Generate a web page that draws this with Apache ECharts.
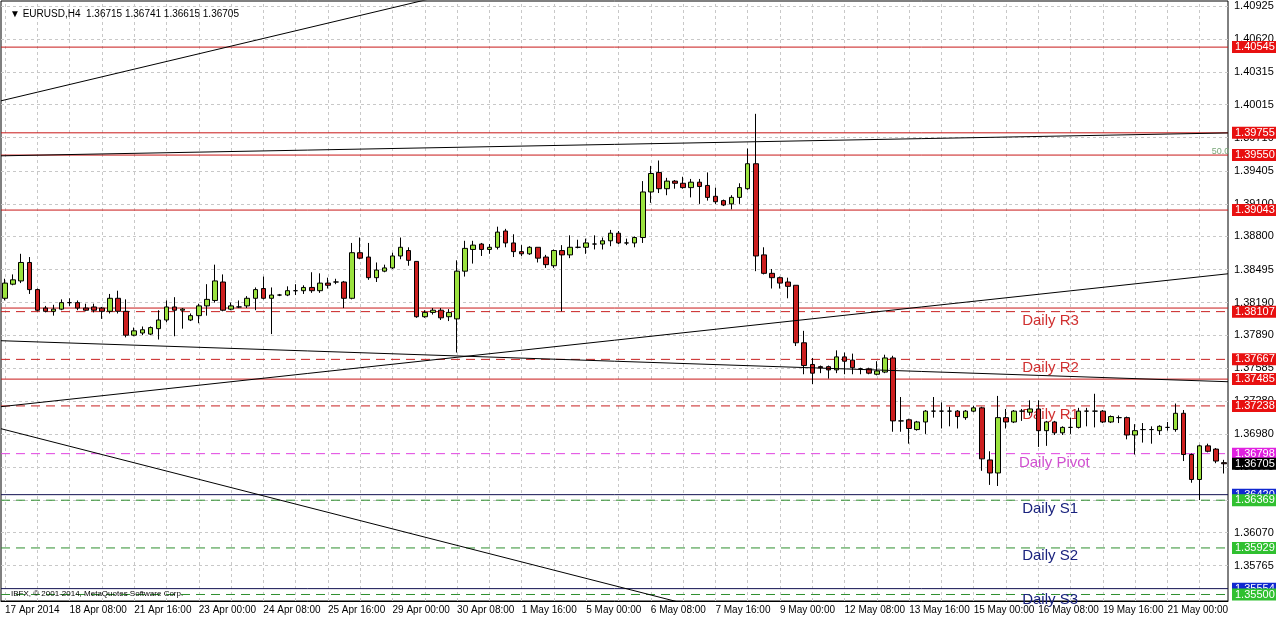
<!DOCTYPE html>
<html><head><meta charset="utf-8">
<script src="https://cdn.jsdelivr.net/npm/echarts@6/dist/echarts.min.js"></script>
<style>html,body{margin:0;padding:0;background:#fff}#c{width:1276px;height:619px}</style>
</head><body><div id="c"></div>
<script>
// Time axis tick labels (every 8th H4 bar)
const timeLabels = ['17 Apr 2014','18 Apr 08:00','21 Apr 16:00','23 Apr 00:00','24 Apr 08:00','25 Apr 16:00','29 Apr 00:00','30 Apr 08:00','1 May 16:00','5 May 00:00','6 May 08:00','7 May 16:00','9 May 00:00','12 May 08:00','13 May 16:00','15 May 00:00','16 May 08:00','19 May 16:00','21 May 00:00'];
// OHLC as [open, close, low, high]
const ohlc = [
[1.3823,1.3837,1.3821,1.3841],[1.3836,1.3840,1.3835,1.3845],[1.3839,1.3856,1.3837,1.3864],[1.3856,1.3831,1.3827,1.3861],
[1.3831,1.3812,1.3811,1.3832],[1.3814,1.3811,1.3810,1.3816],[1.3811,1.3813,1.3807,1.3817],[1.3813,1.3819,1.3812,1.3822],
[1.3819,1.3819,1.3816,1.3823],[1.3819,1.3814,1.3812,1.3821],[1.3814,1.3812,1.3811,1.3818],[1.3815,1.3812,1.3810,1.3818],
[1.3814,1.3811,1.3804,1.3815],[1.3811,1.3823,1.3809,1.3827],[1.3823,1.3811,1.3809,1.3830],[1.3811,1.3789,1.3787,1.3822],
[1.3789,1.3793,1.3788,1.3796],[1.3791,1.3794,1.3789,1.3797],[1.3790,1.3796,1.3789,1.3797],[1.3795,1.3803,1.3785,1.3812],
[1.3803,1.3815,1.3801,1.3821],[1.3815,1.3812,1.3788,1.3824],[1.3812,1.3813,1.3795,1.3814],[1.3803,1.3807,1.3802,1.3809],
[1.3807,1.3816,1.3800,1.3818],[1.3816,1.3822,1.3807,1.3836],[1.3821,1.3839,1.3819,1.3854],[1.3838,1.3812,1.3811,1.3845],
[1.3813,1.3816,1.3812,1.3819],[1.3815,1.3815,1.3814,1.3821],[1.3816,1.3823,1.3814,1.3825],[1.3823,1.3831,1.3812,1.3833],
[1.3832,1.3823,1.3822,1.3843],[1.3823,1.3826,1.3790,1.3833],[1.3826,1.3826,1.3825,1.3827],[1.3826,1.3830,1.3825,1.3834],
[1.3830,1.3830,1.3826,1.3836],[1.3830,1.3833,1.3827,1.3835],[1.3833,1.3830,1.3828,1.3847],[1.3830,1.3837,1.3828,1.3846],
[1.3837,1.3835,1.3832,1.3842],[1.3838,1.3838,1.3836,1.3841],[1.3838,1.3823,1.3814,1.3839],[1.3823,1.3865,1.3822,1.3874],
[1.3865,1.3860,1.3859,1.3879],[1.3861,1.3842,1.3840,1.3874],[1.3842,1.3849,1.3838,1.3856],[1.3848,1.3851,1.3847,1.3854],
[1.3851,1.3862,1.3850,1.3865],[1.3862,1.3870,1.3859,1.3879],[1.3867,1.3858,1.3853,1.3870],[1.3857,1.3806,1.3805,1.3857],
[1.3806,1.3810,1.3805,1.3812],[1.3810,1.3812,1.3808,1.3814],[1.3812,1.3805,1.3803,1.3814],[1.3806,1.3810,1.3802,1.3813],
[1.3804,1.3848,1.3773,1.3858],[1.3848,1.3869,1.3843,1.3876],[1.3868,1.3872,1.3855,1.3876],[1.3873,1.3868,1.3862,1.3874],
[1.3868,1.3870,1.3864,1.3873],[1.3870,1.3884,1.3868,1.3889],[1.3885,1.3874,1.3870,1.3887],[1.3874,1.3866,1.3861,1.3882],
[1.3866,1.3864,1.3862,1.3872],[1.3864,1.3870,1.3863,1.3871],[1.3870,1.3860,1.3856,1.3870],[1.3861,1.3854,1.3851,1.3863],
[1.3853,1.3867,1.3851,1.3868],[1.3867,1.3863,1.3811,1.3872],[1.3863,1.3870,1.3860,1.3881],[1.3870,1.3870,1.3869,1.3877],
[1.3870,1.3874,1.3864,1.3878],[1.3873,1.3873,1.3868,1.3881],[1.3873,1.3876,1.3868,1.3879],[1.3876,1.3883,1.3871,1.3886],
[1.3883,1.3874,1.3873,1.3885],[1.3874,1.3874,1.3872,1.3878],[1.3874,1.3879,1.3870,1.3880],[1.3879,1.3921,1.3874,1.3931],
[1.3921,1.3938,1.3911,1.3945],[1.3939,1.3924,1.3920,1.3950],[1.3924,1.3931,1.3918,1.3934],[1.3931,1.3929,1.3924,1.3932],
[1.3929,1.3925,1.3924,1.3935],[1.3925,1.3930,1.3916,1.3933],[1.3930,1.3926,1.3910,1.3933],[1.3927,1.3916,1.3913,1.3939],
[1.3917,1.3912,1.3910,1.3925],[1.3913,1.3909,1.3908,1.3914],[1.3910,1.3916,1.3905,1.3918],[1.3916,1.3925,1.3910,1.3929],
[1.3924,1.3947,1.3923,1.3961],[1.3947,1.3862,1.3848,1.3993],[1.3863,1.3846,1.3845,1.3870],[1.3846,1.3842,1.3832,1.3850],
[1.3842,1.3837,1.3832,1.3843],[1.3838,1.3834,1.3823,1.3842],[1.3835,1.3782,1.3779,1.3835],[1.3782,1.3761,1.3753,1.3793],
[1.3762,1.3754,1.3744,1.3768],[1.3760,1.3759,1.3754,1.3761],[1.3760,1.3757,1.3749,1.3761],[1.3757,1.3769,1.3754,1.3775],
[1.3769,1.3765,1.3753,1.3773],[1.3766,1.3759,1.3753,1.3772],[1.3758,1.3758,1.3753,1.3759],[1.3758,1.3754,1.3753,1.3759],
[1.3753,1.3756,1.3752,1.3765],[1.3755,1.3768,1.3754,1.3771],[1.3768,1.3710,1.3700,1.3770],[1.3710,1.3710,1.3700,1.3732],
[1.3711,1.3703,1.3689,1.3712],[1.3702,1.3709,1.3701,1.3710],[1.3709,1.3719,1.3698,1.3720],[1.3719,1.3719,1.3713,1.3732],
[1.3719,1.3719,1.3703,1.3727],[1.3719,1.3719,1.3705,1.3723],[1.3719,1.3714,1.3703,1.3720],[1.3713,1.3719,1.3711,1.3720],
[1.3719,1.3722,1.3718,1.3724],[1.3722,1.3675,1.3664,1.3723],[1.3674,1.3662,1.3651,1.3682],[1.3662,1.3713,1.3650,1.3733],
[1.3713,1.3709,1.3703,1.3721],[1.3709,1.3719,1.3708,1.3720],[1.3719,1.3719,1.3710,1.3721],[1.3718,1.3721,1.3715,1.3729],
[1.3721,1.3701,1.3686,1.3729],[1.3701,1.3709,1.3687,1.3710],[1.3709,1.3699,1.3697,1.3710],[1.3699,1.3704,1.3697,1.3705],
[1.3704,1.3704,1.3698,1.3713],[1.3704,1.3719,1.3703,1.3722],[1.3719,1.3719,1.3705,1.3722],[1.3719,1.3719,1.3704,1.3735],
[1.3719,1.3709,1.3708,1.3720],[1.3709,1.3714,1.3708,1.3715],[1.3713,1.3713,1.3708,1.3715],[1.3713,1.3697,1.3693,1.3714],
[1.3697,1.3701,1.3679,1.3707],[1.3702,1.3702,1.3690,1.3708],[1.3702,1.3702,1.3689,1.3705],[1.3701,1.3705,1.3697,1.3706],
[1.3704,1.3704,1.3701,1.3709],[1.3702,1.3717,1.3700,1.3726],[1.3717,1.3679,1.3673,1.3720],[1.3679,1.3656,1.3653,1.3680],
[1.3656,1.3687,1.3637,1.3688],[1.3687,1.3682,1.3681,1.3689],[1.3684,1.3673,1.3671,1.3685],[1.36715,1.36705,1.36615,1.36741]
];
// Price axis tick labels
const yTicks = ['1.40925','1.40620','1.40315','1.40015','1.39710','1.39405','1.39100','1.38800','1.38495','1.38190','1.37890','1.37585','1.37280','1.36980','1.36675','1.36370','1.36070','1.35765'];
// Horizontal levels: [value, kind]
const levels = [
['1.40545','red'],['1.39755','red'],['1.39550','red'],['1.39043','red'],
['1.38107','reddash'],['1.37667','reddash'],['1.37485','red'],['1.37238','reddash'],
['1.36798','pivot'],['1.36705','current'],['1.36420','navy'],['1.36369','greendash'],
['1.35929','greendash'],['1.35554','navy'],['1.35500','greendash']
];
const extraLines = [1.3814];
// Pivot text labels: [text, bar index, price, kind]
const pivotTexts = [['Daily R3',126,1.3802,'r'],['Daily R2',126,1.3759,'r'],['Daily R1',126,1.3716,'r'],
['Daily Pivot',125.6,1.3671,'p'],['Daily S1',126,1.3629,'s'],['Daily S2',126,1.3586,'s'],['Daily S3',126,1.3545,'s']];
// Trendlines: [[x1,y1],[x2,y2]] in bar index / price
const trendlines = [
[[-0.5,1.4005],[60,1.4112]],
[[-0.5,1.39543],[151.5,1.39754]],
[[-0.5,1.37231],[151.5,1.38456]],
[[-0.5,1.37839],[151.5,1.37461]],
[[-0.5,1.37028],[100,1.35115]]
];

const N = ohlc.length;
const categories = [];
for (let i = 0; i < N; i++) categories.push(i % 8 === 0 ? (timeLabels[i/8] || '') : '');

const styles = {
  red:{color:'#c81818',type:'solid',bg:'#e81010',fg:'#fff'},
  reddash:{color:'#c82020',type:[9,6],bg:'#e81010',fg:'#fff'},
  pivot:{color:'#e040e0',type:[9,6],bg:'#e020e0',fg:'#fff'},
  current:{color:'rgba(0,0,0,0)',type:'solid',bg:'#000',fg:'#fff'},
  navy:{color:'#101050',type:'solid',bg:'#1028d0',fg:'#fff'},
  greendash:{color:'#2f8f2f',type:[9,6],bg:'#30c030',fg:'#fff'}
};
const textColor = {r:'#d03030',p:'#d050d0',s:'#1a237e'};
const F = 'Liberation Sans';

const gridStyle = {color:'#c8c8c8',type:[3,3],width:1};
const gridMarks = [];
for (let i = 0; i < N; i += 4) gridMarks.push({xAxis:i,lineStyle:gridStyle,label:{show:false}});
yTicks.forEach(t=>gridMarks.push({name:t,yAxis:parseFloat(t),lineStyle:gridStyle,
  label:{show:true,position:'end',distance:6,formatter:'{b}',color:'#000',fontSize:11,fontFamily:F}}));

// Level lines as plain line series; their labels as markLines with invisible lines
const allLevels = levels.map(([v,k])=>[parseFloat(v),k,v]).concat(extraLines.map(v=>[v,'red','']));
const levelSeries = allLevels.map(([v,k,name])=>{
  const s = styles[k];
  return {type:'line',xAxisIndex:1,data:[[-0.5,v],[N-0.5,v]],symbol:'none',z:4,silent:true,
    lineStyle:{color:s.color,width:1,type:s.type},
    markLine: name ? {silent:true,symbol:['none','none'],animation:false,precision:5,
      lineStyle:{color:'rgba(0,0,0,0)',width:1},
      label:{show:true,position:'end',distance:4,formatter:'{b}',color:s.fg,backgroundColor:s.bg,
        padding:[1,3,0,3],fontSize:11,fontFamily:F,width:39},
      data:[{name:name,yAxis:v}]} : undefined};
});

const option = {
  animation:false,
  backgroundColor:'#fff',
  title:[
    {text:'▼ EURUSD,H4  1.36715 1.36741 1.36615 1.36705',left:5,top:4,textStyle:{fontSize:10,fontWeight:'normal',color:'#000',fontFamily:F}},
    {text:'IBFX, © 2001-2014, MetaQuotes Software Corp.',left:6,top:585,textStyle:{fontSize:8,fontWeight:'normal',color:'#000',fontFamily:F}}
  ],
  grid:{left:1,top:1,width:1227,height:600,show:true,borderColor:'#000',borderWidth:1,backgroundColor:'transparent'},
  xAxis:[
    {type:'category',data:categories,boundaryGap:true,
     axisLine:{lineStyle:{color:'#000'}},
     axisTick:{alignWithLabel:true,interval:(i)=>i%8===0,length:4,lineStyle:{color:'#000'}},
     axisLabel:{interval:(i)=>i%8===0,align:'left',margin:4,fontSize:10,color:'#000',fontFamily:F},
     splitLine:{show:false}},
    {type:'value',min:-0.5,max:N-0.5,show:false,splitLine:{show:false}}
  ],
  yAxis:{type:'value',min:1.35440,max:1.40970,position:'right',show:false,scale:true,splitLine:{show:false}},
  series:[
    {type:'candlestick',data:ohlc,z:5,barWidth:5,
     itemStyle:{color:'#9be23e',color0:'#cc1f1f',borderColor:'#000',borderColor0:'#000',borderWidth:1},
     markLine:{silent:true,symbol:['none','none'],animation:false,precision:5,z:1,data:gridMarks}},
    ...levelSeries,
    ...trendlines.map(t=>({type:'line',xAxisIndex:1,data:t,symbol:'none',z:6,silent:true,
      lineStyle:{color:'#000',width:1}})),
    {type:'line',xAxisIndex:1,data:[],z:3,silent:true,
     markPoint:{silent:true,symbol:'rect',symbolSize:0,animation:false,
       data:pivotTexts.map(([t,x,y,k])=>({coord:[x,y],value:t,
         label:{show:true,position:'right',distance:0,formatter:t,color:textColor[k],fontSize:15,fontFamily:F}})).concat(
         [{coord:[149.5,1.3958],label:{show:true,position:'right',distance:0,formatter:'50.0',color:'#7aa77a',fontSize:9,fontFamily:F}}])}}
  ]
};
echarts.init(document.getElementById('c')).setOption(option);
</script></body></html>
